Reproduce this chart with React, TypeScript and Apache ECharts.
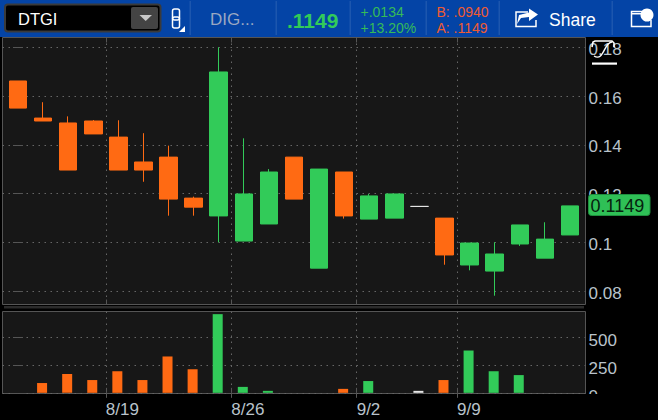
import React, { useEffect, useRef } from "react";
import * as echarts from "echarts";

const opens = [.1662,.1510,.1490,.1498,.1432,.1330,.1350,.1182,.1109,.1006,.1076,.1350,.0895,.1289,.1096,.1100,.1148,.1100,.0908,.0883,.0994,.0936,.1031];
const closes = [.1551,.1498,.1297,.1445,.1297,.1297,.1178,.1145,.1699,.1199,.1289,.1178,.1301,.1109,.1191,.1199,.1148,.0949,.0998,.0953,.1072,.1014,.1150];
const lows = [.1551,.1498,.1297,.1445,.1297,.1249,.1110,.1110,.1001,.1006,.1076,.1178,.0895,.1098,.1096,.1100,.1148,.0909,.0886,.0782,.0986,.0936,.1031];
const highs = [.1662,.1575,.1517,.1502,.1501,.1448,.1397,.1188,.1800,.1427,.1301,.1350,.1301,.1289,.1199,.1199,.1148,.1100,.0998,.1001,.1072,.1083,.1150];
const volumes = [0,89,170,116,196,116,330,214,714,54,18,0,0,36,107,0,18,116,384,196,161,0,0];
const priceTicks = [0.08, 0.1, 0.12, 0.14, 0.16, 0.18];
const volumeTicks = [0, 250, 500];
const weekStarts = [3.5, 8.5, 13.5, 17.5];
const weekLabels = ["8/19", "8/26", "9/2", "9/9"];

const GREEN = "#32cb59";
const ORANGE = "#ff6a13";
const GRID = "#555555";
const LABEL = "#b9c3cb";
const FONT = "'Liberation Sans', Arial, sans-serif";
const X_MIN = -0.6176;
const X_MAX = 22.62;
const PRICE_MIN = 0.0746;
const PRICE_MAX = 0.18402;
const VOL_MIN = -6;
const VOL_MAX = 738;
// the label-only axes sit 2px lower than the grid lines, as the reference's labels do
const PRICE_LABEL_SHIFT = 0.00082;
// a taller, invisible grid carries the volume labels so that "0" stays on its axis
const VOL_LABEL_MIN = -47;
const VOL_LABEL_MAX = 756;

const text = (x: number, y: number, t: string, fill: string, fontSize: number, fontWeight = "normal") => ({
  type: "text", x, y, z: 60,
  style: { text: t, fill, fontSize, fontWeight, fontFamily: FONT, verticalAlign: "middle", align: "left" },
});
const rect = (x: number, y: number, w: number, h: number, fill: string, r = 0, extra: any = {}) => ({
  type: "rect", z: 50, shape: { x, y, width: w, height: h, r }, style: { fill, ...extra },
});
const poly = (pts: number[][], stroke: string, lineWidth = 1.5) => ({
  type: "polyline", z: 60, shape: { points: pts }, style: { stroke, fill: "none", lineWidth },
});
const polygon = (pts: number[][], fill: string) => ({ type: "polygon", z: 60, shape: { points: pts }, style: { fill } });

const BLUE = "#0444a6";
const SEP = "#1c56ae";
const separators = [190, 276, 350, 426, 499, 612];

const graphics: any[] = [
  rect(0, 0, 658, 37, BLUE),
  ...separators.map((x) => rect(x - 0.5, 1, 1.5, 34, SEP)),
  rect(5, 4.5, 155.5, 27, "#000000", 3, { stroke: "#3a3a3a", lineWidth: 2 }),
  rect(131, 7, 27, 22, "#444444", 2),
  polygon([[139.5, 15], [152, 15], [145.7, 21]], "#c8c8c8"),
  text(18, 18.5, "DTGI", "#ffffff", 16.5),
  rect(172.5, 9, 7, 11, "none", 2, { stroke: "#ffffff", lineWidth: 1.5 }),
  rect(172.5, 17, 7, 11, "none", 2, { stroke: "#ffffff", lineWidth: 1.5 }),
  polygon([[185, 26], [185, 32], [179, 32]], "#ffffff"),
  text(210, 19.5, "DIG...", "#9aa8c2", 17),
  text(287, 20.5, ".1149", GREEN, 21, "bold"),
  text(360.5, 11.5, "+.0134", "#35bb58", 14),
  text(360.5, 27.5, "+13.20%", "#35bb58", 14),
  text(436.5, 11.5, "B: .0940", "#ef5b32", 14),
  text(436.5, 27.5, "A: .1149", "#ef5b32", 14),
  poly([[528, 12], [516, 12], [516, 26.5], [536, 26.5], [536, 20]], "#ffffff", 1.5),
  polygon([[529, 8.5], [538, 14.5], [529, 21], [529, 17], [521, 18], [517, 24], [519, 15], [529, 12.5]], "#ffffff"),
  text(549, 19.5, "Share", "#ffffff", 17.5),
  poly([[642, 11.5], [631.5, 11.5], [631.5, 26.5], [651, 26.5], [651, 20]], "#ffffff", 1.5),
  rect(631.5, 13, 10, 1.5, "#ffffff"),
  { type: "circle", z: 60, shape: { cx: 647, cy: 15, r: 6.5 }, style: { fill: "#ffffff" } },
  rect(646, 13.5, 2, 6, BLUE),
  rect(646, 10.5, 2, 2, BLUE),
  rect(4, 306, 580, 2.5, "#2b2b2b"),
  rect(587, 394, 71, 26, "#000000"),
  rect(588.5, 194.5, 61.5, 21, "#2fc056", 3, { stroke: "#1f8f3e", lineWidth: 1 }),
  text(590.5, 205.5, "0.1149", "#06220e", 18),
  poly([[592, 47], [593, 42], [595, 41], [612, 41], [614, 43], [614, 47]], "#ffffff", 1.6),
  { type: "bezierCurve", z: 60, shape: { x1: 594, y1: 56, x2: 612, y2: 42, cpx1: 604, cpy1: 62, cpx2: 604, cpy2: 42 }, style: { stroke: "#ffffff", fill: "none", lineWidth: 1.4 } },
  rect(592, 62.5, 25, 2.2, "#ffffff"),
];

const dotted = { show: true, showMinLine: true, showMaxLine: true, lineStyle: { color: "#666666", type: [1.5, 4.5] as number[], width: 1, opacity: 1 } };
const tick = { show: true, inside: true, length: 5, lineStyle: { color: GRID, width: 1 } };

const xAxisFor = (gridIndex: number, position: string, labels: boolean, lines: boolean) => ({
  type: "value", gridIndex, position, min: X_MIN, max: X_MAX,
  axisLine: { show: false },
  axisTick: { ...tick, customValues: weekStarts },
  splitLine: lines ? dotted : { show: false },
  axisLabel: labels
    ? {
        show: true, customValues: weekStarts, color: LABEL, fontSize: 17, fontFamily: FONT, align: "left", margin: 7,
        formatter: (v: number) => weekLabels[weekStarts.indexOf(v)] ?? "",
      }
    : { show: false },
});
const yAxisFor = (gridIndex: number, position: string, min: number, max: number, ticks: number[], lines: boolean) => ({
  type: "value", gridIndex, position, min, max,
  axisLine: { show: false },
  axisTick: { ...tick, customValues: ticks },
  splitLine: lines ? dotted : { show: false },
  axisLabel: { show: false },
});
const yLabelAxis = (gridIndex: number, min: number, max: number, ticks: number[]) => ({
  type: "value", gridIndex, position: "right", min, max,
  axisLine: { show: false },
  axisTick: { show: false },
  splitLine: { show: false },
  axisLabel: { show: true, customValues: ticks, color: LABEL, fontSize: 17, fontFamily: FONT, margin: 3, formatter: (v: number) => String(v), showMinLabel: true, showMaxLabel: true, hideOverlap: false },
});

export default function App() {
  const ref = useRef<HTMLDivElement>(null);
  useEffect(() => {
    document.body.style.margin = "0";
    document.body.style.background = "#000";
    const chart = echarts.init(ref.current!, null, { renderer: "svg" });
    const gridBase = { show: true, left: 2.5, width: 583, backgroundColor: "#171717", borderColor: "#555555", borderWidth: 1 };
    chart.setOption({
      animation: false,
      backgroundColor: "#000000",
      grid: [
        { ...gridBase, top: 37.5, height: 267 },
        { ...gridBase, top: 311.5, height: 82 },
        { show: false, left: 2.5, width: 583, top: 311.5, height: 90 },
      ],
      xAxis: [
        xAxisFor(0, "bottom", false, true),
        xAxisFor(0, "top", false, false),
        xAxisFor(1, "bottom", true, true),
        xAxisFor(1, "top", false, false),
        { type: "value", gridIndex: 2, min: X_MIN, max: X_MAX, show: false },
      ],
      yAxis: [
        yAxisFor(0, "right", PRICE_MIN, PRICE_MAX, priceTicks, true),
        yAxisFor(0, "left", PRICE_MIN, PRICE_MAX, priceTicks, false),
        yLabelAxis(0, PRICE_MIN + PRICE_LABEL_SHIFT, PRICE_MAX + PRICE_LABEL_SHIFT, priceTicks),
        yAxisFor(1, "right", VOL_MIN, VOL_MAX, volumeTicks, true),
        yAxisFor(1, "left", VOL_MIN, VOL_MAX, volumeTicks, false),
        yLabelAxis(2, VOL_LABEL_MIN, VOL_LABEL_MAX, volumeTicks),
      ],
      series: [
        {
          type: "candlestick", xAxisIndex: 0, yAxisIndex: 0, barWidth: 18, z: 5,
          itemStyle: { color: GREEN, color0: ORANGE, borderColor: GREEN, borderColor0: ORANGE, borderColorDoji: "#e6e6e6", borderWidth: 1 },
          data: opens.map((o, i) => [i, o, closes[i], lows[i], highs[i]]),
        },
        {
          type: "bar", xAxisIndex: 2, yAxisIndex: 3, barWidth: 10, z: 5,
          data: volumes.map((v, i) => ({
            value: [i - 0.04, v],
            itemStyle: { color: closes[i] > opens[i] ? GREEN : closes[i] < opens[i] ? ORANGE : "#e6e6e6" },
          })),
        },
      ],
      graphic: { elements: graphics },
    });
    return () => chart.dispose();
  }, []);
  return <div ref={ref} style={{ width: 658, height: 420 }} />;
}
